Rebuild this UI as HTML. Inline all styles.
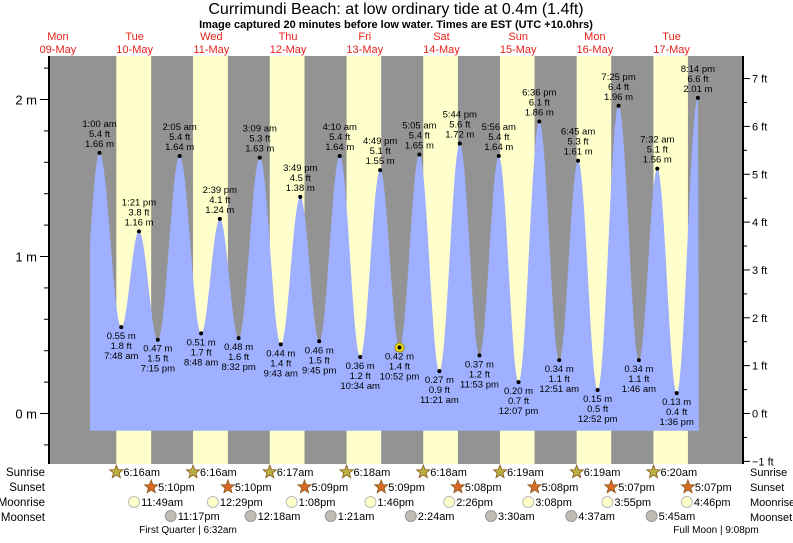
<!DOCTYPE html>
<html><head><meta charset="utf-8"><style>
body{margin:0;background:#fff;width:793px;height:538px;overflow:hidden}
svg{font-family:"Liberation Sans",sans-serif}
</style></head><body>
<svg id="c" width="793" height="538" xmlns="http://www.w3.org/2000/svg">
<text x="396" y="14" font-size="16" text-anchor="middle">Currimundi Beach: at low  ordinary tide at 0.4m (1.4ft)</text>
<text x="396" y="28" font-size="11" font-weight="bold" text-anchor="middle">Image captured 20 minutes before low water. Times are EST (UTC +10.0hrs)</text>
</svg>
<script>
const dayNames=["Mon","Tue","Wed","Thu","Fri","Sat","Sun","Mon","Tue"];
const dayDates=["09-May","10-May","11-May","12-May","13-May","14-May","15-May","16-May","17-May"];
const tideDay=[1,1,1,1,2,2,2,2,3,3,3,3,4,4,4,4,5,5,5,5,6,6,6,7,7,7,7,8,8,8,8];
const tideTime=["01:00","07:48","13:21","19:15","02:05","08:48","14:39","20:32","03:09","09:43","15:49","21:45","04:10","10:34","16:49","22:52","05:05","11:21","17:44","23:53","05:56","12:07","18:36","00:51","06:45","12:52","19:25","01:46","07:32","13:36","20:14"];
const tideM=[1.66,0.55,1.16,0.47,1.64,0.51,1.24,0.48,1.63,0.44,1.38,0.46,1.64,0.36,1.55,0.42,1.65,0.27,1.72,0.37,1.64,0.20,1.86,0.34,1.61,0.15,1.96,0.34,1.56,0.13,2.01];
const tideFt=["5.4","1.8","3.8","1.5","5.4","1.7","4.1","1.6","5.3","1.4","4.5","1.5","5.4","1.2","5.1","1.4","5.4","0.9","5.6","1.2","5.4","0.7","6.1","1.1","5.3","0.5","6.4","1.1","5.1","0.4","6.6"];
const tideLbl=["1:00 am","7:48 am","1:21 pm","7:15 pm","2:05 am","8:48 am","2:39 pm","8:32 pm","3:09 am","9:43 am","3:49 pm","9:45 pm","4:10 am","10:34 am","4:49 pm","10:52 pm","5:05 am","11:21 am","5:44 pm","11:53 pm","5:56 am","12:07 pm","6:36 pm","12:51 am","6:45 am","12:52 pm","7:25 pm","1:46 am","7:32 am","1:36 pm","8:14 pm"];
const sunDay=[1,2,3,4,5,6,7,8];
const sunrise=["06:16","06:16","06:17","06:18","06:18","06:19","06:19","06:20"];
const sunset=["17:10","17:10","17:09","17:09","17:08","17:08","17:07","17:07"];
const moonriseDay=[1,2,3,4,5,6,7,8];
const moonrise=["11:49","12:29","13:08","13:46","14:26","15:08","15:55","16:46"];
const moonsetDay=[1,3,4,5,6,7,8];
const moonset=["23:17","00:18","01:21","02:24","03:30","04:37","05:45"];
const moonsetLbl=["11:17pm","12:18am","1:21am","2:24am","3:30am","4:37am","5:45am"];
const moonriseLbl=["11:49am","12:29pm","1:08pm","1:46pm","2:26pm","3:08pm","3:55pm","4:46pm"];
const yTicksM=[0,1,2];
const yTicksFt=[-1,0,1,2,3,4,5,6,7];
const nowDay=4,nowTime="22:52",nowM=0.42;

const NS="http://www.w3.org/2000/svg",svg=document.getElementById('c');
const X0=19.6,HPX=3.196,PL=49,PR=743,PT=56,PB=464,Y0=413.5,MPX=157,FTPX=47.85;
function hrs(d,t){const p=t.split(':');return d*24+(+p[0])+(+p[1])/60;}
function xs(h){return X0+h*HPX;}
function ym(m){return Y0-m*MPX;}
function yf(f){return Y0-f*FTPX;}
function el(tag,a,txt){const e=document.createElementNS(NS,tag);for(const k in a)e.setAttribute(k,a[k]);if(txt!=null)e.textContent=txt;svg.appendChild(e);return e;}
function to12(t){let [a,b]=t.split(':').map(Number);const ap=a<12?'am':'pm';a=a%12||12;return a+':'+String(b).padStart(2,'0')+ap;}

let e=el('rect',{x:PL,y:PT,width:PR-PL,height:PB-PT,fill:'#939393'});

sunDay.forEach((d,i)=>{const a=xs(hrs(d,sunrise[i])),b=xs(hrs(d,sunset[i]));
 const r=el('rect',{x:a,y:PT,width:b-a,height:PB-PT,fill:'#ffffcc'});
 });
const H=tideDay.map((d,i)=>hrs(d,tideTime[i]));
const startX=90,endH=H[H.length-1]+0.3;
let pts=[];
const preH=H[0]-6.2,preM=0.45;
const HH=[preH].concat(H),MM=[preM].concat(tideM);
for(let px=startX;px<=xs(endH);px+=1){const h=(px-X0)/HPX;let k=0;while(k<HH.length-2&&h>HH[k+1])k++;
 let m;if(h>HH[HH.length-1]){m=MM[MM.length-1];}else{const f=(h-HH[k])/(HH[k+1]-HH[k]);m=MM[k]+(MM[k+1]-MM[k])*(1-Math.cos(Math.PI*f))/2;}
 pts.push(px.toFixed(1)+','+ym(m).toFixed(1));}
const xe=xs(endH),yb=ym(-0.11);
e=el('path',{d:'M'+startX+','+yb+' L'+pts.join(' L')+' L'+xe+','+yb+'Z',fill:'#9eb0ff'});

e=el('line',{x1:PL,y1:PT,x2:PL,y2:PB,stroke:'#000','stroke-width':2});

e=el('line',{x1:PR,y1:PT,x2:PR,y2:PB,stroke:'#000','stroke-width':2});

for(let m=-0.2;m<=2.21;m+=0.2){const y=ym(m);if(y<PT||y>PB)continue;el('line',{x1:PL-5,y1:y,x2:PL,y2:y,stroke:'#000'});}
yTicksM.forEach(m=>{const y=ym(m);el('line',{x1:PL-9,y1:y,x2:PL,y2:y,stroke:'#000'});
 const t=el('text',{x:PL-12,y:y+5,'font-size':13,'text-anchor':'end'},m+' m');
 });
for(let f=-1;f<=7.6;f+=0.5){const y=yf(f);if(y<PT||y>PB+1)continue;el('line',{x1:PR,y1:y,x2:PR+(f%1?4:7),y2:y,stroke:'#000'});}
yTicksFt.forEach(f=>{const y=yf(f);
 const t=el('text',{x:PR+9,y:y+4,'font-size':11},(f<0?'\u2212'+(-f):f)+' ft');
 });
dayNames.forEach((n,i)=>{const x=xs(i*24+12);
 let t=el('text',{x:x,y:40,'font-size':11,fill:'#e8201a','text-anchor':'middle'},n);
 
 t=el('text',{x:x,y:53,'font-size':11,fill:'#e8201a','text-anchor':'middle'},dayDates[i]);
 });
e=el('circle',{cx:xs(hrs(nowDay,nowTime)),cy:ym(nowM),r:4.5,fill:'#f0e020',stroke:'#a09000'});

H.forEach((h,i)=>{const x=xs(h),y=ym(tideM[i]);const hi=i==0?tideM[0]>tideM[1]:tideM[i]>tideM[i-1];
 const d=el('circle',{cx:x,cy:y,r:2,fill:'#000'});
 
 const lines=hi?[tideLbl[i],tideFt[i]+' ft',tideM[i].toFixed(2)+' m']:[tideM[i].toFixed(2)+' m',tideFt[i]+' ft',tideLbl[i]];
 lines.forEach((s,j)=>{const ty=hi?y-26+j*10:y+12+j*10;
  const t=el('text',{x:x,y:ty,'font-size':9.5,'text-anchor':'middle'},s);
  });});
const rows=[['Sunrise',476],['Sunset',491],['Moonrise',506],['Moonset',521]];
rows.forEach(r=>{let t=el('text',{x:45,y:r[1],'font-size':11.5,'text-anchor':'end'},r[0]);
 
 t=el('text',{x:750,y:r[1],'font-size':11},r[0]);
 });
function star(cx,cy,fill,name){let p=[];for(let k=0;k<10;k++){const a=-Math.PI/2+k*Math.PI/5,rr=k%2?3:7;p.push((cx+rr*Math.cos(a)).toFixed(1)+','+(cy+rr*Math.sin(a)).toFixed(1));}
 const s=el('polygon',{points:p.join(' '),fill:fill,stroke:'#8a5a20','stroke-width':0.8});
 }
sunDay.forEach((d,i)=>{let x=xs(hrs(d,sunrise[i]));star(x,472,'#b8b040','sunrise-icon');
 let t=el('text',{x:x+7,y:476,'font-size':11},to12(sunrise[i]));
 x=xs(hrs(d,sunset[i]));star(x,487,'#d86a28','sunset-icon');
 t=el('text',{x:x+7,y:491,'font-size':11},to12(sunset[i]));});
moonriseDay.forEach((d,i)=>{const x=xs(hrs(d,moonrise[i]));
 const c=el('circle',{cx:x,cy:502,r:5.5,fill:'#ffffc8',stroke:'#bbb'});
 const t=el('text',{x:x+7,y:506,'font-size':11},moonriseLbl[i]);});
moonsetDay.forEach((d,i)=>{const x=xs(hrs(d,moonset[i]));
 const c=el('circle',{cx:x,cy:516,r:5.5,fill:'#c0bcb4',stroke:'#999'});
 const t=el('text',{x:x+7,y:520,'font-size':11},moonsetLbl[i]);});
e=el('text',{x:188,y:533,'font-size':10,'text-anchor':'middle'},'First Quarter | 6:32am');

e=el('text',{x:716,y:533,'font-size':10,'text-anchor':'middle'},'Full Moon | 9:08pm');

</script>
</body></html>
